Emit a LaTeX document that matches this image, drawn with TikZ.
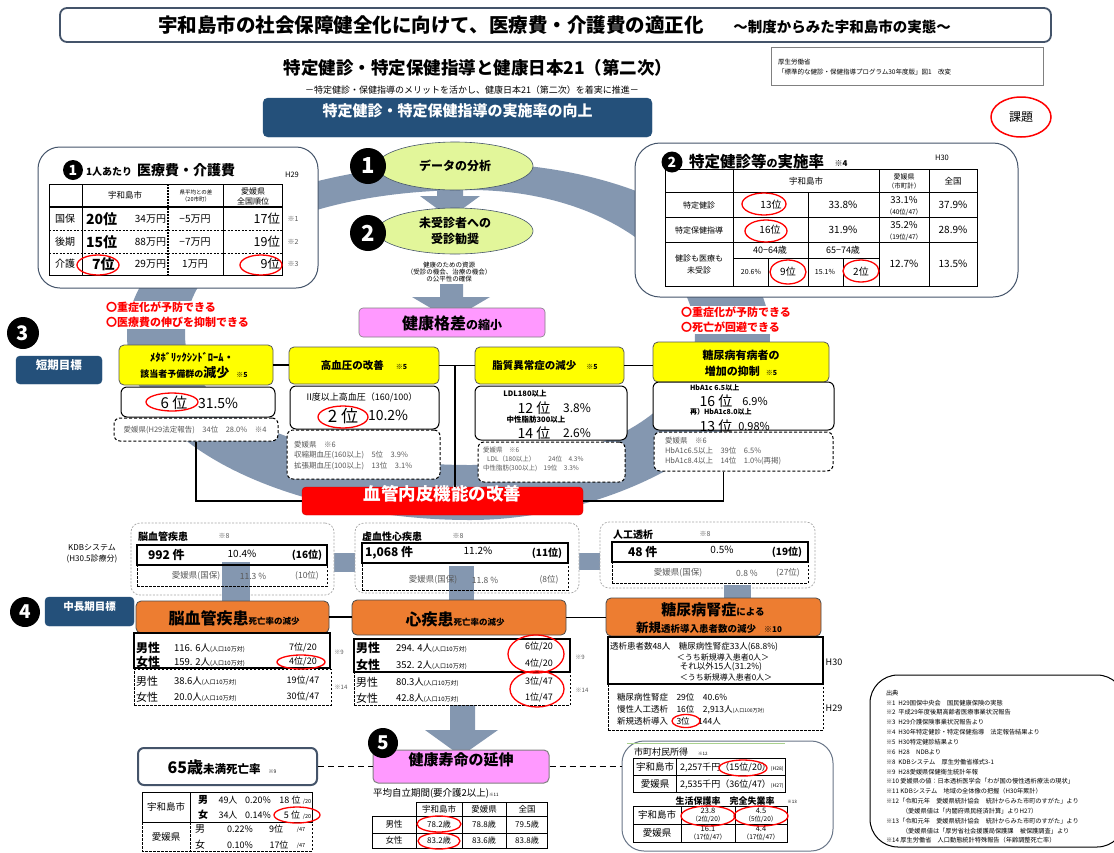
\documentclass[tikz,border=0pt]{standalone}
\usepackage{fontspec}
\setmainfont{Noto Sans CJK JP}
\usetikzlibrary{shapes.geometric,fit}
\definecolor{ringgray}{HTML}{8497B0}
\definecolor{navyC}{HTML}{24507A}
\definecolor{slate}{HTML}{44546A}
\definecolor{lgreen}{HTML}{E2F69A}
\definecolor{pinkC}{HTML}{FF99FF}
\definecolor{orangeC}{HTML}{ED7D31}
\definecolor{yel}{HTML}{FFFF00}
\definecolor{tgray}{HTML}{595959}
\definecolor{gline}{HTML}{A9D18E}
\newcommand\FS[2]{\fontsize{#1}{#2}\selectfont}
\tikzset{
  t/.style={inner sep=0pt, outer sep=0pt},
  numc/.style={circle, fill=black, text=white, inner sep=0pt, font=\bfseries\FS{#1}{#1}},
  redo/.style={draw=red, line width=1.3},
  ybox/.style={fill=yel, draw=gray!70!black, line width=0.8, rounded corners=5, inner sep=0pt},
  wbox/.style={fill=white, draw=black, line width=1, rounded corners=6, inner sep=0pt},
  dbox/.style={fill=white, draw=black, line width=1, dash pattern=on 3pt off 2pt, rounded corners=6, inner sep=0pt},
  obox/.style={fill=orangeC, draw=gray!60!black, line width=0.8, rounded corners=5, inner sep=0pt},
  navy/.style={fill=navyC, draw=navyC, rounded corners=4, inner sep=0pt, text=white},
  conn/.style={draw=black, line width=1.8},
  solidrow/.style={draw=black, line width=1.2, inner sep=0pt},
  dashrow/.style={draw=black, line width=1, dash pattern=on 2.5pt off 1.5pt, inner sep=0pt},
  kbox/.style={draw=gray!70, line width=0.7, dash pattern=on 2pt off 1.5pt, rounded corners=9, fill=white, inner sep=0pt},
}
\begin{document}
\begin{tikzpicture}[x=1pt,y=-1pt]
\useasboundingbox (0,0) rectangle (1114,852);
\clip (0,0) rectangle (1114,852);
\fill[white] (0,0) rectangle (1114,852);

% ---------- background ring and gray arrows ----------
\fill[ringgray, even odd rule]
  (127,335) .. controls (127,230) and (300,163) .. (470,163)
  .. controls (640,163) and (770,240) .. (770,335)
  .. controls (770,440) and (610,520) .. (470,520)
  .. controls (300,520) and (127,450) .. (127,335) -- cycle
  (185,335) .. controls (185,240) and (320,190) .. (470,190)
  .. controls (600,190) and (695,260) .. (695,335)
  .. controls (695,410) and (600,465) .. (470,465)
  .. controls (330,465) and (185,420) .. (185,335) -- cycle;
\fill[ringgray] (437,185) -- (463,185) -- (463,196) -- (480,196) -- (450,218) -- (420,196) -- (437,196) -- cycle;
\fill[ringgray] (440,284) -- (463,284) -- (463,297) -- (490,297) -- (451,320) -- (412,297) -- (440,297) -- cycle;
\fill[ringgray] (450,705) -- (475,705) -- (475,730) -- (498,730) -- (461,756) -- (425,730) -- (450,730) -- cycle;

% ---------- title ----------
\node[draw=slate, line width=1.8, rounded corners=7, fill=white, inner sep=0pt, fit={(60,8) (1051,42)}] (title) {};
\node[t, font=\bfseries\FS{19.5}{22}] (tt1) at (431,25) {宇和島市の社会保障健全化に向けて、医療費・介護費の適正化};
\node[t, font=\bfseries\FS{14.5}{16}] (tt2) at (842,27) {～制度からみた宇和島市の実態～};
\node[t, font=\bfseries\FS{17.5}{20}] (st1) at (478,68) {特定健診・特定保健指導と健康日本21（第二次）};
\node[t, font=\FS{9}{11}] (st2) at (472,90) {－特定健診・保健指導のメリットを活かし、健康日本21（第二次）を着実に推進－};
\node[draw=gray, line width=0.8, fill=white, inner sep=0pt, fit={(771,47) (1043,85)}] (refb) {};
\node[t, anchor=west, font=\FS{6.5}{8}] (ref1) at (778,62) {厚生労働省};
\node[t, anchor=west, font=\FS{6.5}{8}] (ref2) at (778,72) {「標準的な健診・保健指導プログラム30年度版」図1　改変};
\node[navy, rounded corners=5, fit={(263,98) (652,137)}, font=\bfseries\FS{15}{17}] (ban) {特定健診・特定保健指導の実施率の向上};
\node[draw=red, line width=1.5, ellipse, minimum width=60, minimum height=40, inner sep=0pt, font=\FS{12}{14}] (kadai) at (1021,117) {課題};

% ---------- box 1 ----------
\node[draw=slate, line width=1, rounded corners=22, fill=white, inner sep=0pt, fit={(38,147) (318,288)}] (bx1) {};
\node[numc=14, minimum size=20] (n1s) at (73,170) {1};
\node[t, anchor=west, font=\bfseries\FS{10}{12}] (b1x) at (86,172) {1人あたり};
\node[t, anchor=west, font=\bfseries\FS{14}{16}] (b1y) at (137,170) {医療費・介護費};
\node[t, font=\FS{7.5}{9}] (b1h) at (292,175) {H29};
\draw[line width=1] (49,184) rectangle (282,275);
\draw[line width=1] (82,184) -- (82,275) (223,184) -- (223,275);
\draw[line width=1.4, dash pattern=on 2pt off 1pt] (168,184) -- (168,275);
\draw[line width=1.6] (49,207) -- (282,207);
\draw[line width=0.8, dash pattern=on 2pt off 1.5pt] (49,230) -- (282,230) (49,253) -- (282,253);
\node[t, font=\FS{8.5}{10}] (b1c1) at (125,195) {宇和島市};
\node[t, align=center, font=\FS{5.5}{7}] (b1c2) at (196,196) {県平均との差\\（20市町）};
\node[t, align=center, font=\FS{8}{10}] (b1c3) at (253,196) {愛媛県\\全国順位};
\foreach \yy/\lab/\rx/\rk/\amt/\df/\nr/\nt [count=\i] in {219/国保/86/20位/34万円/−5万円/17位/※1, 242/後期/86/15位/88万円/−7万円/19位/※2, 264/介護/92/7位/29万円/1万円/9位/※3}{
  \node[t, font=\FS{10}{12}] (b1l\i) at (65,\yy) {\lab};
  \node[t, anchor=west, font=\bfseries\FS{14}{16}] (b1r\i) at (\rx,\yy) {\rk};
  \node[t, anchor=east, font=\FS{10}{12}] (b1m\i) at (166,\yy) {\amt};
  \node[t, font=\FS{10}{12}] (b1d\i) at (195,\yy) {\df};
  \node[t, anchor=east, font=\FS{12.5}{14}] (b1k\i) at (280,\yy) {\nr};
  \node[t, font=\FS{7}{9}, text=tgray] (b1n\i) at (293,\yy) {\nt};
}
\draw[redo] (98,265) ellipse [x radius=21pt, y radius=10pt];
\draw[redo] (261,265) ellipse [x radius=21pt, y radius=10pt];
\node[t, anchor=west, fill=white, inner sep=1pt, text=red, align=left, font=\bfseries\FS{11}{15}] (rt1) at (105,315) {〇重症化が予防できる\\〇医療費の伸びを抑制できる};

% ---------- box 2 ----------
\node[draw=slate, line width=1, rounded corners=25, fill=white, inner sep=0pt, fit={(635,143) (1018,297)}] (bx2) {};
\node[numc=14, minimum size=21] (n2s) at (672,162) {2};
\node[t, anchor=west] (b2x) at (689,162) {\bfseries\FS{15.5}{17}特定健診等\FS{11}{13}の\FS{15.5}{17}実施率};
\node[t, font=\bfseries\FS{8}{10}] (b2y) at (841,164) {※4};
\node[t, font=\FS{7.5}{9}] (b2h) at (942,158) {H30};
\draw[line width=1] (665,169) rectangle (977,286);
\draw[line width=1] (733,169) -- (733,286) (879,169) -- (879,286) (929,169) -- (929,286) (808,192) -- (808,286)
  (768,258) -- (768,286) (843,258) -- (843,286)
  (665,192) -- (977,192) (665,217) -- (977,217) (665,242) -- (977,242) (733,258) -- (879,258);
\node[t, font=\FS{8.5}{10}] (b2c1) at (806,181) {宇和島市};
\node[t, align=center, font=\FS{7}{9}] (b2c2) at (904,181) {愛媛県\\{\FS{6.5}{8}（市町計）}};
\node[t, font=\FS{8.5}{10}] (b2c3) at (953,181) {全国};
\node[t, font=\FS{8}{10}] (b2r1) at (699,205) {特定健診};
\node[t, font=\FS{10}{12}] (b2r1a) at (771,205) {13位};
\node[t, font=\FS{10}{12}] (b2r1b) at (843,205) {33.8\%};
\node[t, align=center, font=\FS{9.5}{11}] (b2r1c) at (904,206) {33.1\%\\{\FS{6.5}{8}（40位/47）}};
\node[t, font=\FS{10}{12}] (b2r1d) at (953,205) {37.9\%};
\node[t, font=\FS{8}{10}] (b2r2) at (699,230) {特定保健指導};
\node[t, font=\FS{10}{12}] (b2r2a) at (770,230) {16位};
\node[t, font=\FS{10}{12}] (b2r2b) at (843,230) {31.9\%};
\node[t, align=center, font=\FS{9.5}{11}] (b2r2c) at (904,231) {35.2\%\\{\FS{6.5}{8}（19位/47）}};
\node[t, font=\FS{10}{12}] (b2r2d) at (953,230) {28.9\%};
\node[t, align=center, font=\FS{8}{12}] (b2r3) at (699,264) {健診も医療も\\未受診};
\node[t, font=\FS{9}{11}] (b2r3a) at (770,250) {40−64歳};
\node[t, font=\FS{9}{11}] (b2r3b) at (843,250) {65−74歳};
\node[t, font=\FS{7}{9}] (b2r3c) at (751,272) {20.6\%};
\node[t, font=\FS{10}{12}] (b2r3d) at (788,272) {9位};
\node[t, font=\FS{7}{9}] (b2r3e) at (825,272) {15.1\%};
\node[t, font=\FS{10}{12}] (b2r3f) at (861,272) {2位};
\node[t, font=\FS{10}{12}] (b2r3g) at (904,264) {12.7\%};
\node[t, font=\FS{10}{12}] (b2r3h) at (953,264) {13.5\%};
\draw[redo] (764,204) ellipse [x radius=22pt, y radius=11pt];
\draw[redo] (766,231) ellipse [x radius=21pt, y radius=11pt];
\draw[redo] (788,272) ellipse [x radius=18pt, y radius=12pt];
\draw[redo] (861,271) ellipse [x radius=18pt, y radius=11pt];
\node[t, anchor=west, fill=white, inner sep=1pt, text=red, align=left, font=\bfseries\FS{11}{15}] (rt2) at (680,320) {〇重症化が予防できる\\〇死亡が回避できる};

% ---------- centre ellipses ----------
\node[ellipse, fill=lgreen, draw=slate, line width=0.6, minimum width=156, minimum height=48, inner sep=0pt, font=\bfseries\FS{12}{14}] (e1) at (455,166) {データの分析};
\node[numc=22, minimum size=36] (n1) at (368,166) {1};
\node[ellipse, fill=lgreen, draw=slate, line width=0.6, minimum width=156, minimum height=46, inner sep=0pt, align=center, font=\bfseries\FS{12}{16}] (e2) at (455,231) {未受診者への\\受診勧奨};
\node[numc=22, minimum size=36] (n2) at (368,233) {2};
\node[t, align=center, font=\FS{6.5}{7}] (res) at (449,272) {健康のための資源\\（受診の機会、治療の機会）\\の公平性の確保};
\node[fill=pinkC, draw=gray, line width=0.6, rounded corners=4, inner sep=0pt, fit={(359,308) (545,337)}] (kak) {};
\node[t] (kakt) at (452,323) {\bfseries\FS{16}{18}健康格差\FS{12}{14}の縮小};

% ---------- short term ----------
\node[numc=20, minimum size=32] (n3) at (23,333) {3};
\node[navy, fit={(16,356) (102,384)}, font=\bfseries\FS{11.5}{13}] (stg) {短期目標};

\node[ybox, fit={(119,345) (273,385)}] (ya) {};
\node[t, font=\bfseries\FS{10.5}{12}] (ya1) at (192,357) {ﾒﾀﾎﾞﾘｯｸｼﾝﾄﾞﾛｰﾑ・};
\node[t] (ya2) at (194,373) {\bfseries\FS{9}{11}該当者予備群の\FS{13}{14}減少\FS{7}{9}　※5};
\node[wbox, fit={(121,387) (275,417)}] (wa) {};
\node[t, font=\FS{15}{17}] (wa1) at (174,403) {6 位};
\node[t, anchor=west, font=\FS{14}{16}] (wa2) at (198,403) {31.5\%};
\draw[redo] (172,402) ellipse [x radius=26pt, y radius=9pt];
\node[dbox, fit={(114,418) (278,441)}] (da) {};
\node[t, font=\FS{7.5}{9}, text=tgray] (da1) at (195,430) {愛媛県(H29法定報告)　34位　28.0\%　※4};

\node[ybox, fit={(289,347) (439,384)}] (yb) {};
\node[t] (yb1) at (364,366) {\bfseries\FS{10.5}{12}高血圧の改善\hspace{12pt}\FS{7}{9}※5};
\node[wbox, fit={(290,386) (439,429)}] (wb) {};
\node[t, font=\FS{9}{11}] (wb1) at (362,397) {II度以上高血圧（160/100）};
\node[t, font=\FS{17}{19}] (wb2) at (343,416) {2 位};
\node[t, anchor=west, font=\FS{14}{16}] (wb3) at (368,415) {10.2\%};
\draw[redo] (343,417) ellipse [x radius=25pt, y radius=11pt];
\node[dbox, fit={(287,430) (440,479)}] (db) {};
\node[t, anchor=north west, align=left, font=\FS{7.5}{10.5}, text=tgray] (db1) at (294,441) {愛媛県　※6\\収縮期血圧(160以上)　5位　3.9\%\\拡張期血圧(100以上)　13位　3.1\%};

\node[ybox, fit={(475,347) (624,384)}] (yc) {};
\node[t] (yc1) at (545,366) {\bfseries\FS{10.5}{12}脂質異常症の減少\hspace{10pt}\FS{7}{9}※5};
\node[wbox, fit={(475,386) (627,440)}] (wc) {};
\node[t, font=\bfseries\FS{7.5}{9}] (wc1) at (525,394) {LDL180以上};
\node[t, font=\FS{14}{16}] (wc2) at (534,408) {12 位};
\node[t, font=\FS{12}{14}] (wc3) at (577,408) {3.8\%};
\node[t, font=\bfseries\FS{7.5}{9}] (wc4) at (536,420) {中性脂肪300以上};
\node[t, font=\FS{14}{16}] (wc5) at (534,433) {14 位};
\node[t, font=\FS{12}{14}] (wc6) at (577,433) {2.6\%};
\node[dbox, fit={(478,442) (625,482)}] (dc) {};
\node[t, anchor=north west, align=left, font=\FS{6.5}{9}, text=tgray] (dc1) at (483,447) {愛媛県　※6\\\hspace*{4pt}LDL（180以上）　　24位　4.3\%\\中性脂肪(300以上)　19位　3.3\%};

\node[ybox, fit={(653,342) (829,382)}] (yd) {};
\node[t, align=center, font=\bfseries\FS{11}{16}] (yd1) at (741,363) {糖尿病有病者の\\増加の抑制\hspace{6pt}{\FS{7}{9}※5}};
\node[wbox, fit={(653,382) (834,430)}] (wd) {};
\node[t, anchor=west, font=\bfseries\FS{7}{9}] (wd1) at (690,388) {HbA1c 6.5以上};
\node[t, font=\FS{14}{16}] (wd2) at (716,401) {16 位};
\node[t, font=\FS{11}{13}] (wd3) at (755,401) {6.9\%};
\node[t, anchor=west, font=\bfseries\FS{7}{9}] (wd4) at (690,412) {再）HbA1c8.0以上};
\node[t, font=\FS{14}{16}] (wd5) at (716,426) {13 位};
\node[t, font=\FS{11}{13}] (wd6) at (754,426) {0.98\%};
\node[dbox, fit={(654,432) (833,471)}] (dd) {};
\node[t, anchor=north west, align=left, font=\FS{7.5}{10}, text=tgray] (dd1) at (665,437) {愛媛県　※6\\HbA1c6.5以上　39位　6.5\%\\HbA1c8.4以上　14位　1.0\%(再掲)};

\node[fill=red, draw=red!80!black, rounded corners=4, inner sep=0pt, fit={(302,487) (583,515)}, text=white, font=\bfseries\FS{17.5}{19}] (vr) {血管内皮機能の改善};

\draw[conn] (ya.east) -- (ya.east -| yb.west);
\draw[conn] (yb.east) -- (yb.east -| yc.west);
\draw[conn] (yc.east) -- (yc.east -| yd.west);
\coordinate (jb) at (455,365.5);
\draw[conn] (jb) -- (jb |- vr.north);
\draw[conn] (da.south) |- (vr.west);
\draw[conn] ([xshift=-20pt]dd.south) |- (vr.east);

% ---------- KDB ----------
\node[t, align=center, font=\FS{8}{11}] (kdb) at (92,554) {KDBシステム\\(H30.5診療分)};
\fill[ringgray] (334,553) rectangle (355,572);
\fill[ringgray] (579,553) rectangle (600,570);
\node[kbox, fit={(131,523) (334,595)}] (k1) {};
\node[kbox, fit={(355,523) (579,593)}] (k2) {};
\node[kbox, fit={(600,522) (815,588)}] (k3) {};
\fill[ringgray] (222,562) rectangle (250,603);
\fill[ringgray] (449,566) rectangle (474,603);
\fill[ringgray] (724,585) rectangle (751,600);

\node[t, anchor=west, font=\bfseries\FS{10}{12}] (k1t) at (138,537) {脳血管疾患};
\node[t, font=\FS{7}{9}, text=tgray] (k1n) at (224,536) {※8};
\node[solidrow, fit={(137,545) (327,565)}] (k1s) {};
\node[dashrow, fit={(137,565) (327,586)}] (k1d) {};
\node[t, anchor=west, font=\bfseries\FS{12}{14}] (k1a) at (148,555) {992 件};
\node[t, font=\FS{10}{12}] (k1b) at (242,554) {10.4\%};
\node[t, font=\bfseries\FS{10}{12}] (k1c) at (307,555) {(16位)};
\node[t, font=\FS{8.5}{10}, text=tgray] (k1e) at (196,576) {愛媛県(国保)};
\node[t, font=\FS{8.5}{10}, text=tgray] (k1f) at (253,576) {11.3 \%};
\node[t, font=\FS{8.5}{10}, text=tgray] (k1g) at (307,576) {(10位)};

\node[t, anchor=west, font=\bfseries\FS{10}{12}] (k2t) at (362,537) {虚血性心疾患};
\node[t, font=\FS{7}{9}, text=tgray] (k2n) at (458,536) {※8};
\node[solidrow, fit={(362,543) (568,563)}] (k2s) {};
\node[dashrow, fit={(362,563) (568,590)}] (k2d) {};
\node[t, anchor=west, font=\bfseries\FS{12}{14}] (k2a) at (365,553) {1,068 件};
\node[t, font=\FS{10}{12}] (k2b) at (478,551) {11.2\%};
\node[t, font=\bfseries\FS{10}{12}] (k2c) at (547,553) {(11位)};
\node[t, font=\FS{8.5}{10}, text=tgray] (k2e) at (433,580) {愛媛県(国保)};
\node[t, font=\FS{8.5}{10}, text=tgray] (k2f) at (485,580) {11.8 \%};
\node[t, font=\FS{8.5}{10}, text=tgray] (k2g) at (549,580) {(8位)};

\node[t, anchor=west, font=\bfseries\FS{10}{12}] (k3t) at (613,535) {人工透析};
\node[t, font=\FS{7}{9}, text=tgray] (k3n) at (705,534) {※8};
\node[solidrow, fit={(612,542) (808,562)}] (k3s) {};
\node[dashrow, fit={(612,562) (808,583)}] (k3d) {};
\node[t, anchor=west, font=\bfseries\FS{12}{14}] (k3a) at (628,552) {48 件};
\node[t, font=\FS{10}{12}] (k3b) at (722,550) {0.5\%};
\node[t, font=\bfseries\FS{10}{12}] (k3c) at (787,552) {(19位)};
\node[t, font=\FS{8.5}{10}, text=tgray] (k3e) at (678,573) {愛媛県(国保)};
\node[t, font=\FS{8.5}{10}, text=tgray] (k3f) at (747,573) {0.8 \%};
\node[t, font=\FS{8.5}{10}, text=tgray] (k3g) at (788,573) {(27位)};

% ---------- mid/long term ----------
\node[numc=19, minimum size=30] (n4) at (25,612) {4};
\node[navy, fit={(45,597) (134,626)}, font=\bfseries\FS{10.5}{12}] (mtg) {中長期目標};
\node[obox, fit={(136,601) (329,633)}] (o1) {};
\node[t] (o1t) at (234,618) {\bfseries\FS{16}{18}脳血管疾患\FS{8.5}{10}死亡率の減少};
\node[obox, fit={(352,600) (566,635)}] (o2) {};
\node[t] (o2t) at (455,619) {\bfseries\FS{16}{18}心疾患\FS{8.5}{10}死亡率の減少};
\node[obox, fit={(606,598) (821,636)}] (o3) {};
\node[t] (o3a) at (713,610) {\bfseries\FS{15}{17}糖尿病腎症\FS{9.5}{11}による};
\node[t] (o3b) at (709,628) {\bfseries\FS{12.5}{14}新規\FS{9.5}{11}透析導入患者数の減少\FS{8}{10}　※10};
\draw[conn] (o1.east) -- (o1.east -| o2.west);
\draw[conn] (o2.east) -- (o2.east -| o3.west);

\node[solidrow, fit={(134,633) (330,668)}] (o1s) {};
\node[dashrow, fit={(134,669) (331,705)}] (o1d) {};
\node[t, anchor=west, font=\bfseries\FS{12}{14}] (o1a) at (136,648) {男性};
\node[t, anchor=west] (o1b) at (174,648) {\FS{9.5}{11}116. 6人\FS{6}{8}(人口10万対)};
\node[t, font=\FS{9}{11}] (o1c) at (303,648) {7位/20};
\node[t, anchor=west, font=\bfseries\FS{12}{14}] (o1e) at (136,662) {女性};
\node[t, anchor=west] (o1f) at (174,662) {\FS{9.5}{11}159. 2人\FS{6}{8}(人口10万対)};
\node[t, font=\FS{9}{11}] (o1g) at (303,662) {4位/20};
\draw[redo] (301,662) ellipse [x radius=24pt, y radius=7pt];
\node[t, font=\FS{6}{8}, text=tgray] (o1n) at (339,652) {※9};
\node[t, anchor=west, font=\FS{11}{13}] (o1h) at (136,681) {男性};
\node[t, anchor=west] (o1i) at (174,681) {\FS{9.5}{11}38.6人\FS{6}{8}(人口10万対)};
\node[t, font=\FS{9}{11}] (o1j) at (303,681) {19位/47};
\node[t, anchor=west, font=\FS{11}{13}] (o1k) at (136,697) {女性};
\node[t, anchor=west] (o1l) at (174,697) {\FS{9.5}{11}20.0人\FS{6}{8}(人口10万対)};
\node[t, font=\FS{9}{11}] (o1m) at (303,697) {30位/47};
\node[t, font=\FS{6}{8}, text=tgray] (o1o) at (341,687) {※14};

\node[solidrow, fit={(354,639) (570,672)}] (o2s) {};
\node[dashrow, fit={(354,672) (570,705)}] (o2d) {};
\node[t, anchor=west, font=\bfseries\FS{12}{14}] (o2a) at (356,648) {男性};
\node[t, anchor=west] (o2b) at (396,648) {\FS{9.5}{11}294. 4人\FS{6}{8}(人口10万対)};
\node[t, font=\FS{9}{11}] (o2c) at (539,647) {6位/20};
\node[t, anchor=west, font=\bfseries\FS{12}{14}] (o2e) at (356,665) {女性};
\node[t, anchor=west] (o2f) at (396,665) {\FS{9.5}{11}352. 2人\FS{6}{8}(人口10万対)};
\node[t, font=\FS{9}{11}] (o2g) at (539,664) {4位/20};
\draw[redo] (536,654) ellipse [x radius=28pt, y radius=19pt];
\node[t, font=\FS{6}{8}, text=tgray] (o2n) at (580,657) {※9};
\node[t, anchor=west, font=\FS{11}{13}] (o2h) at (356,682) {男性};
\node[t, anchor=west] (o2i) at (396,682) {\FS{9.5}{11}80.3人\FS{6}{8}(人口10万対)};
\node[t, font=\FS{9}{11}] (o2j) at (539,682) {3位/47};
\node[t, anchor=west, font=\FS{11}{13}] (o2k) at (356,698) {女性};
\node[t, anchor=west] (o2l) at (396,698) {\FS{9.5}{11}42.8人\FS{6}{8}(人口10万対)};
\node[t, font=\FS{9}{11}] (o2m) at (539,698) {1位/47};
\draw[redo] (537,689) ellipse [x radius=27pt, y radius=18pt];
\node[t, font=\FS{6}{8}, text=tgray] (o2o) at (582,690) {※14};

\node[solidrow, fit={(608,637) (823,684)}] (o3s) {};
\node[dashrow, fit={(608,684) (823,730)}] (o3d) {};
\node[t, anchor=west, font=\FS{8.5}{10}] (o3c) at (610,647) {透析患者数48人　糖尿病性腎症33人(68.8\%)};
\node[t, font=\FS{8}{10}] (o3e) at (723,657) {＜うち新規導入患者0人＞};
\node[t, font=\FS{8.5}{10}] (o3f) at (721,667) {それ以外15人(31.2\%)};
\node[t, font=\FS{8}{10}] (o3g) at (726,677) {＜うち新規導入患者0人＞};
\node[t, font=\FS{9}{11}] (o3h) at (834,662) {H30};
\node[t, anchor=west, font=\FS{8.5}{10}] (o3i) at (617,697) {糖尿病性腎症　29位　40.6\%};
\node[t, anchor=west] (o3j) at (617,710) {\FS{8.5}{10}慢性人工透析　16位　2,913人\FS{5}{6}(人口100万対)};
\node[t, anchor=west, font=\FS{8.5}{10}] (o3k) at (617,721) {新規透析導入　3位　144人};
\draw[redo] (686,721) ellipse [x radius=14pt, y radius=6.5pt];
\node[t, font=\FS{9}{11}] (o3l) at (834,708) {H29};

% ---------- bottom ----------
\node[draw=slate, line width=2, rounded corners=6, fill=white, inner sep=0pt, fit={(138,748) (317,785)}] (d65) {};
\node[t] (d65t) at (222,767) {\bfseries\FS{16}{18}65歳\FS{11.5}{13}未満死亡率\hspace{8pt}\mdseries\FS{5}{6}※9};
\node[fill=pinkC, draw=gray, line width=1, rounded corners=5, inner sep=0pt, fit={(373,750) (549,783)}, font=\bfseries\FS{15}{17}] (jk) {健康寿命の延伸};
\node[numc=19, minimum size=30] (n5) at (383,743) {5};
\node[draw=slate!80, line width=1, rounded corners=22, fill=white, inner sep=0pt, fit={(622,741) (833,851)}] (inc) {};
\draw[gline, line width=1] (627,743) -- (785,743);
\draw[black, line width=1.8, dash pattern=on 6pt off 4pt] (d65.east) -- (jk.west);
\draw[black, line width=1.8, dash pattern=on 6pt off 4pt] (jk.east) -- (jk.east -| inc.west);

% 65 table
\draw[line width=1] (142,792) rectangle (312,822) (190,792) -- (190,822);
\draw[line width=1, dash pattern=on 2.5pt off 1.5pt] (142,822) rectangle (312,851) (190,822) -- (190,851);
\node[t, font=\FS{9.5}{11}] (m1) at (166,807) {宇和島市};
\node[t, font=\FS{9.5}{11}] (m2) at (166,837) {愛媛県};
\node[t, font=\bfseries\FS{10}{12}] (m3) at (203,800) {男};
\node[t, font=\FS{9}{11}] (m4) at (228,800) {49人};
\node[t, font=\FS{9}{11}] (m5) at (258,800) {0.20\%};
\node[t, font=\FS{9}{11}] (m6) at (290,800) {18 位};
\node[t, font=\FS{5.5}{7}] (m7) at (307,802) {/20};
\node[t, font=\bfseries\FS{10}{12}] (m8) at (203,815) {女};
\node[t, font=\FS{9}{11}] (m9) at (228,815) {34人};
\node[t, font=\FS{9}{11}] (m10) at (258,815) {0.14\%};
\node[t, font=\FS{9}{11}] (m11) at (292,815) {5 位};
\node[t, font=\FS{5.5}{7}] (m12) at (307,817) {/20};
\draw[redo] (297,815) ellipse [x radius=23pt, y radius=8pt];
\node[t, font=\FS{10}{12}] (m13) at (200,829) {男};
\node[t, font=\FS{9}{11}] (m14) at (240,829) {0.22\%};
\node[t, font=\FS{9}{11}] (m15) at (276,829) {9位};
\node[t, font=\FS{5.5}{7}] (m16) at (301,830) {/47};
\node[t, font=\FS{10}{12}] (m17) at (200,845) {女};
\node[t, font=\FS{9}{11}] (m18) at (240,845) {0.10\%};
\node[t, font=\FS{9}{11}] (m19) at (279,845) {17位};
\node[t, font=\FS{5.5}{7}] (m20) at (301,846) {/47};

% life expectancy table
\node[t, anchor=west] (jkl) at (373,793) {\FS{9.5}{11}平均自立期間(要介護2以上)\FS{4.5}{5}※11};
\draw[line width=0.8] (416,802) -- (547,802) -- (547,848) -- (372,848) -- (372,816) -- (547,816)
  (416,802) -- (416,848) (462,802) -- (462,848) (506,802) -- (506,848) (372,833) -- (547,833);
\node[t, font=\FS{8.5}{10}] (j1) at (439,809) {宇和島市};
\node[t, font=\FS{8.5}{10}] (j2) at (484,809) {愛媛県};
\node[t, font=\FS{8.5}{10}] (j3) at (527,809) {全国};
\node[t, font=\FS{8.5}{10}] (j4) at (394,824) {男性};
\node[t, font=\FS{8}{10}] (j5) at (439,824) {78.2歳};
\node[t, font=\FS{8}{10}] (j6) at (484,824) {78.8歳};
\node[t, font=\FS{8}{10}] (j7) at (527,824) {79.5歳};
\node[t, font=\FS{8.5}{10}] (j8) at (394,840) {女性};
\node[t, font=\FS{8}{10}] (j9) at (439,840) {83.2歳};
\node[t, font=\FS{8}{10}] (j10) at (484,840) {83.6歳};
\node[t, font=\FS{8}{10}] (j11) at (527,840) {83.8歳};
\draw[redo] (439,824) ellipse [x radius=22pt, y radius=8pt];
\draw[redo] (439,841) ellipse [x radius=21pt, y radius=8pt];

% income box
\node[t, anchor=west] (i1) at (634,752) {\FS{9}{11}市町村民所得\hspace{10pt}\FS{4.5}{5}※12};
\draw[line width=1] (633,758) rectangle (785,792) (633,775) -- (785,775) (676,758) -- (676,792);
\node[t, font=\FS{9.5}{11}] (i2) at (655,767) {宇和島市};
\node[t, anchor=west] (i3) at (680,767) {\FS{9}{11}2,257千円（15位/20）\FS{5}{6}(H28)};
\node[t, font=\FS{9.5}{11}] (i4) at (655,784) {愛媛県};
\node[t, anchor=west] (i5) at (680,784) {\FS{9}{11}2,535千円（36位/47）\FS{5}{6}(H27)};
\draw[redo] (743,768) ellipse [x radius=24pt, y radius=8pt];
\node[t, font=\bfseries\FS{9}{11}] (i6) at (725,801) {生活保護率　完全失業率};
\node[t, font=\FS{4.5}{5}] (i7) at (792,802) {※13};
\draw[line width=1] (633,806) rectangle (787,842) (633,824) -- (787,824) (681,806) -- (681,842) (735,806) -- (735,842);
\node[t, font=\FS{9.5}{11}] (i8) at (657,815) {宇和島市};
\node[t, align=center, font=\FS{7.5}{8}] (i9) at (708,815.5) {23.8\\{\FS{6.5}{8}（2位/20）}};
\node[t, align=center, font=\FS{7.5}{8}] (i10) at (761,815.5) {4.5\\{\FS{6.5}{8}（5位/20）}};
\node[t, font=\FS{9.5}{11}] (i11) at (657,833) {愛媛県};
\node[t, align=center, font=\FS{7.5}{8}] (i12) at (708,833.5) {16.1\\{\FS{6.5}{8}（17位/47）}};
\node[t, align=center, font=\FS{7.5}{8}] (i13) at (761,833.5) {4.4\\{\FS{6.5}{8}（17位/47）}};
\draw[redo] (708,816) ellipse [x radius=27pt, y radius=10pt];
\draw[redo] (761,816) ellipse [x radius=27pt, y radius=10pt];

% sources
\node[draw=black, line width=1, rounded corners=28, fill=white, inner sep=0pt, fit={(870,675) (1125,847)}] (src) {};
\node[t, anchor=north west, align=left, font=\FS{6.2}{9.85}] (srct) at (886,690) {出典\\
※1\ \ H29国保中央会　国民健康保険の実態\\
※2\ \ 平成29年度後期高齢者医療事業状況報告\\
※3\ \ H29介護保険事業状況報告より\\
※4\ \ H30年特定健診・特定保健指導　法定報告結果より\\
※5\ \ H30特定健診結果より\\
※6\ \ H28　NDBより\\
※8\ \ KDBシステム　厚生労働省様式3-1\\
※9\ \ H28愛媛県保健衛生統計年報\\
※10\ 愛媛県の値：日本透析医学会「わが国の慢性透析療法の現状」\\
※11\ KDBシステム　地域の全体像の把握（H30年累計）\\
※12「令和元年　愛媛県統計協会　統計からみた市町のすがた」より\\
\hspace*{16pt}（愛媛県値は「内閣府県民経済計算」よりH27）\\
※13「令和元年　愛媛県統計協会　統計からみた市町のすがた」より\\
\hspace*{16pt}（愛媛県値は「厚労省社会援護局保護課　被保護調査」より\\
※14\ 厚生労働省　人口動態統計特殊報告（年齢調整死亡率）};
\end{tikzpicture}
\end{document}
